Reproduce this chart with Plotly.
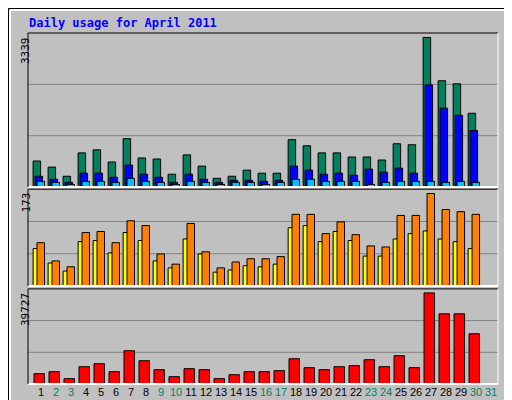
import plotly.graph_objects as go

days = list(range(1, 32))
data_days = list(range(1, 31))
hits = [582,446,242,763,831,559,1080,650,627,287,718,468,196,242,378,310,310,1058,922,763,763,672,672,604,967,944,3339,2372,2304,1647]
files = [242,174,106,310,310,219,491,287,219,106,287,174,106,151,151,128,151,468,378,287,310,264,400,332,423,310,2281,1760,1601,1261]
pages = [128,106,60,128,128,106,196,128,106,60,128,106,60,106,106,60,106,174,174,128,128,128,60,106,128,128,128,106,128,106]
visits = [70,43,28,83,85,62,100,85,47,34,88,60,26,30,38,36,41,109,113,83,102,85,56,56,88,98,103,88,83,70]
sites = [81,47,36,100,102,81,122,113,60,41,117,64,34,45,51,51,55,134,134,98,120,96,75,73,132,132,173,143,139,134]
kbytes = [4495,5365,2320,7540,8845,5365,14500,10150,6235,3190,6670,6235,2320,4060,5365,5365,5800,11020,7105,6235,7540,7975,10585,7540,12325,7105,39727,30595,30595,21895]
weekend = {2,3,9,10,16,17,23,24,30,31}
ticktext = [f"<span style='color:#00805c'>{d}</span>" if d in weekend else str(d) for d in days]

BG = "#c0c0c0"
fig = go.Figure()
line = dict(color="black", width=1)
def bar(y, color, off, w, ax):
    fig.add_trace(go.Bar(x=data_days, y=y, marker=dict(color=color, line=line),
                         offset=off, width=w, xaxis="x", yaxis=ax, showlegend=False))
bar(hits, "#00805c", -0.53, 0.5, "y")
bar(files, "#0000ff", -0.40, 0.5, "y")
bar(pages, "#00c0ff", -0.27, 0.5, "y")
bar(visits, "#ffff00", -0.53, 0.5, "y2")
bar(sites, "#ff8000", -0.27, 0.5, "y2")
bar(kbytes, "#ff0000", -0.47, 0.7, "y3")

yax = dict(showticklabels=False, showgrid=False, zeroline=False, fixedrange=True)
doms = {"y": [0.561, 1.0], "y2": [0.279, 0.555], "y3": [0.0, 0.271]}
fig.update_layout(
    width=512, height=400, barmode="overlay",
    paper_bgcolor=BG, plot_bgcolor=BG,
    margin=dict(l=20, r=22, t=25, b=24),
    font=dict(family="DejaVu Sans Mono", size=11, color="black"),
    xaxis=dict(range=[0.13, 31.46], tickvals=days, ticktext=ticktext, showgrid=False,
               zeroline=False, ticks="", tickangle=0, automargin=False,
               tickfont=dict(size=11, family="Liberation Sans"), anchor="y3"),
    yaxis=dict(domain=doms["y"], range=[0, 3438], **yax),
    yaxis2=dict(domain=doms["y2"], range=[0, 181], **yax),
    yaxis3=dict(domain=doms["y3"], range=[0, 41470], **yax),
)

shapes = []
for ref in ["y", "y2", "y3"]:
    for f in (1/3, 2/3):
        shapes.append(dict(type="line", xref="x domain", yref=f"{ref} domain", x0=0, x1=1, y0=f, y1=f,
                           line=dict(color="#808080", width=1), layer="below"))
    d = doms[ref]
    shapes.append(dict(type="line", xref="paper", yref="paper", x0=0, x1=1, y0=d[1], y1=d[1], line=dict(color="black", width=1)))
    shapes.append(dict(type="line", xref="paper", yref="paper", x0=0, x1=1, y0=d[0], y1=d[0], line=dict(color="white", width=2)))
    shapes.append(dict(type="line", xref="paper", yref="paper", x0=0, x1=0, y0=d[0], y1=d[1], line=dict(color="black", width=1)))
    shapes.append(dict(type="line", xref="paper", yref="paper", x0=1, x1=1, y0=d[0], y1=d[1], line=dict(color="white", width=1)))
px = lambda v: (v - 20) / 470
py = lambda v: (376 - v) / 351
shapes.append(dict(type="rect", xref="paper", yref="paper", x0=px(0.5), x1=px(511.5), y0=py(0.5), y1=py(399.5),
                   line=dict(color="black", width=1)))
shapes.append(dict(type="line", xref="paper", yref="paper", x0=px(2), x1=px(509), y0=py(2), y1=py(2), line=dict(color="white", width=2)))
shapes.append(dict(type="line", xref="paper", yref="paper", x0=px(2), x1=px(2), y0=py(2), y1=py(397), line=dict(color="white", width=2)))
shapes.append(dict(type="line", xref="paper", yref="paper", x0=px(2), x1=px(509), y0=py(397), y1=py(397), line=dict(color="#808080", width=2)))
shapes.append(dict(type="line", xref="paper", yref="paper", x0=px(509), x1=px(509), y0=py(2), y1=py(397), line=dict(color="#808080", width=2)))
fig.update_layout(shapes=shapes)

ann = [
    dict(text="<b>Daily usage for April 2011</b>", x=px(19), y=py(15), xanchor="left", yanchor="middle",
         font=dict(color="#0000ff", size=12, family="DejaVu Sans Mono")),
    dict(text="3339", x=px(9), y=py(27), xanchor="left", yanchor="top", textangle=-90),
    dict(text="173", x=px(9), y=py(183), xanchor="left", yanchor="top", textangle=-90),
    dict(text="39727", x=px(9), y=py(283), xanchor="left", yanchor="top", textangle=-90),
    dict(text="<span style='color:#00c0ff'>Pages</span> / <span style='color:#0000ff'>Files</span> / <span style='color:#00805c'>Hits</span>",
         x=px(494), y=py(27), xanchor="left", yanchor="top", textangle=-90),
    dict(text="<span style='color:#ff8000'>Sites</span> / <span style='color:#ffff00'>Visits</span>",
         x=px(494), y=py(183), xanchor="left", yanchor="top", textangle=-90),
    dict(text="<span style='color:#ff0000'>KBytes</span>",
         x=px(494), y=py(283), xanchor="left", yanchor="top", textangle=-90),
]
for a in ann:
    a.setdefault("font", dict(size=11, family="DejaVu Sans Mono", color="black"))
    a.update(xref="paper", yref="paper", showarrow=False)
fig.update_layout(annotations=ann)
fig.write_html("out.html")
